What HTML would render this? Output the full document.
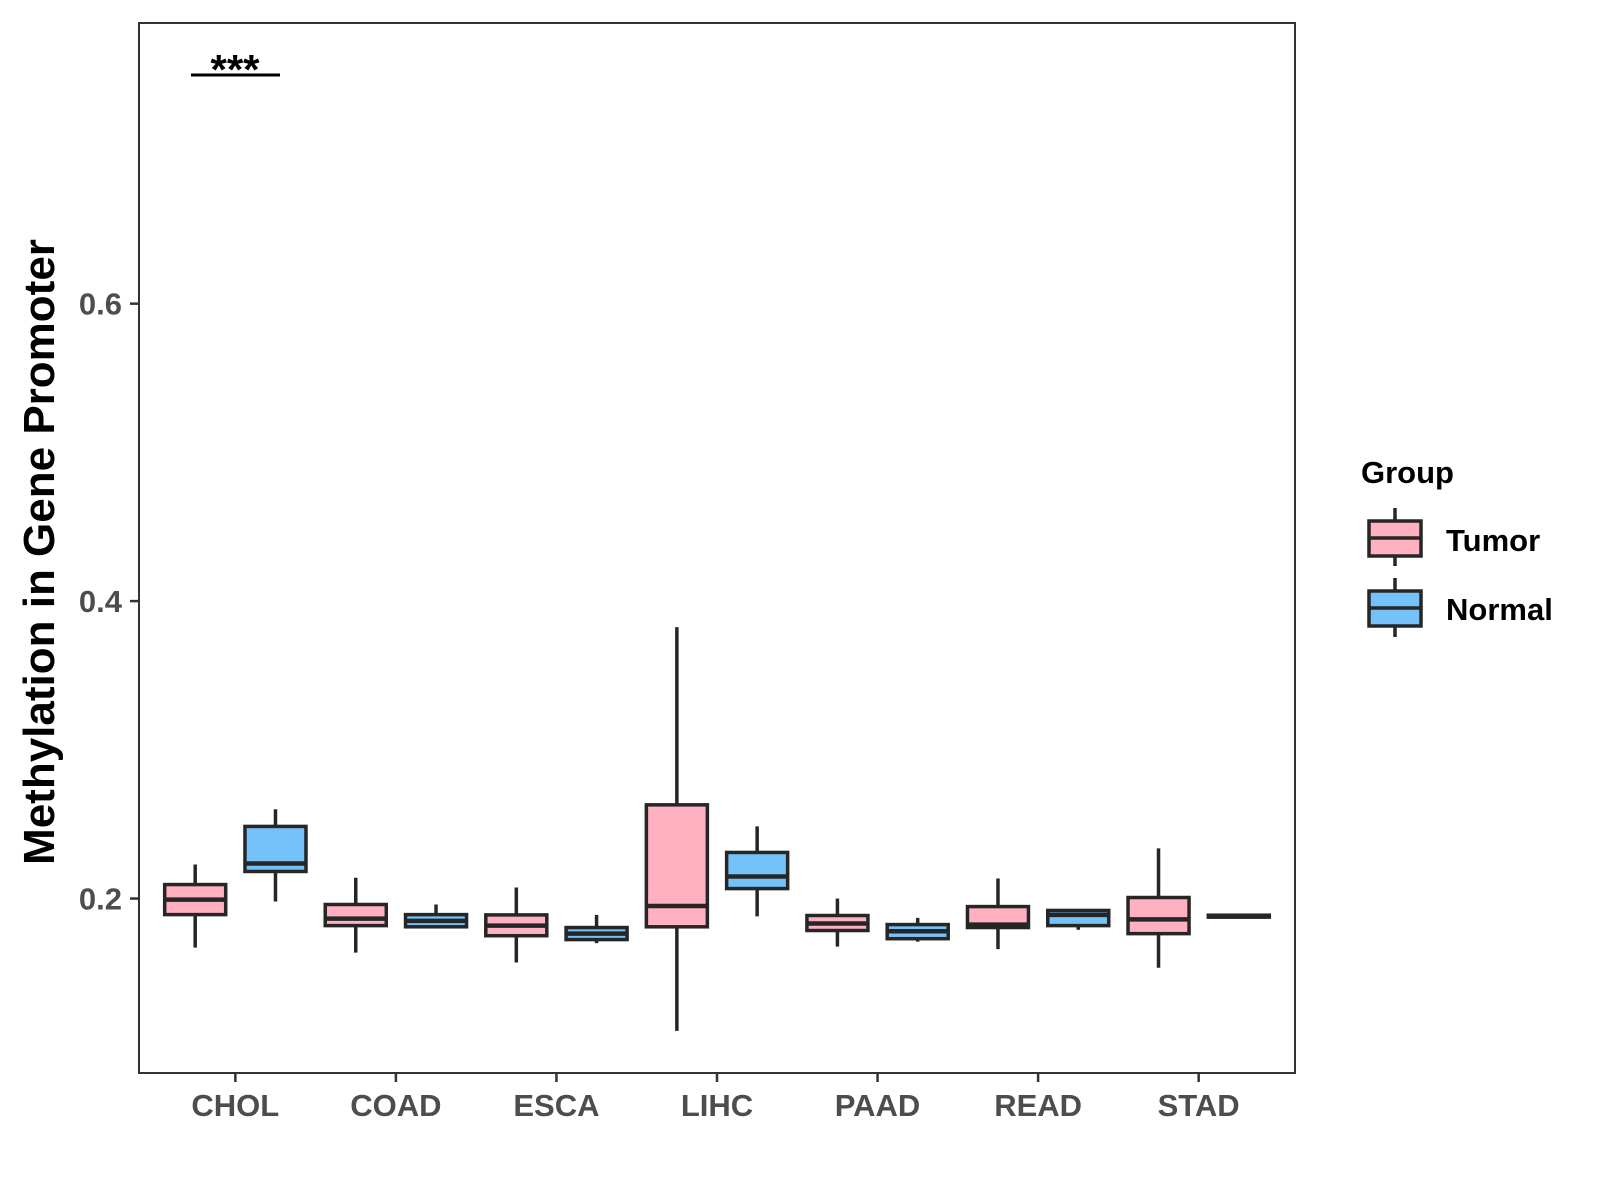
<!DOCTYPE html>
<html><head><meta charset="utf-8"><style>
html,body{margin:0;padding:0;background:#fff;}
svg{display:block;font-family:"Liberation Sans",Arial,sans-serif;}
</style></head><body>
<svg id="chart" width="1600" height="1200" viewBox="0 0 1600 1200" xmlns="http://www.w3.org/2000/svg">
<rect x="0" y="0" width="1600" height="1200" fill="#fff"/>
<rect x="139" y="23" width="1156" height="1050" fill="#fff" stroke="#333" stroke-width="2"/>
<g id="marks"></g>
<g id="axes"></g>
<text transform="translate(54,552) rotate(-90)" text-anchor="middle" font-size="44" font-weight="bold" fill="#000">Methylation in Gene Promoter</text>
<g>
<line x1="191" y1="75" x2="280" y2="75" stroke="#000" stroke-width="3"/>
<text x="235" y="84" text-anchor="middle" font-size="42" font-weight="bold" fill="#000">***</text>
</g>
<g transform="translate(-7,0)">
<text x="1368" y="483" font-size="31" font-weight="bold" fill="#000">Group</text>
<g>
<line x1="1402" y1="508" x2="1402" y2="566" stroke="#262626" stroke-width="3.5"/>
<rect x="1376" y="521" width="52" height="35" fill="#FFB0C1" stroke="#262626" stroke-width="3.5"/>
<line x1="1376" y1="538" x2="1428" y2="538" stroke="#262626" stroke-width="3.5"/>
<text x="1453" y="551" font-size="31" font-weight="bold" fill="#000">Tumor</text>
</g>
<g>
<line x1="1402" y1="578" x2="1402" y2="637" stroke="#262626" stroke-width="3.5"/>
<rect x="1376" y="591" width="52" height="35" fill="#74C2F9" stroke="#262626" stroke-width="3.5"/>
<line x1="1376" y1="608" x2="1428" y2="608" stroke="#262626" stroke-width="3.5"/>
<text x="1453" y="620" font-size="31" font-weight="bold" fill="#000">Normal</text>
</g>
</g>
</svg>
<script>
const categories = ["CHOL","COAD","ESCA","LIHC","PAAD","READ","STAD"];
const tumorMin = [0.167,0.1636,0.157,0.111,0.1677,0.166,0.1535];
const tumorQ1 = [0.1892,0.1818,0.175,0.181,0.1785,0.1805,0.1764];
const tumorMed = [0.1993,0.1865,0.1818,0.195,0.1832,0.1825,0.186];
const tumorQ3 = [0.2094,0.196,0.189,0.263,0.1886,0.1946,0.2007];
const tumorMax = [0.2229,0.214,0.2074,0.3825,0.2,0.2135,0.2337];
const normalMin = [0.198,0.1805,0.170,0.188,0.171,0.179,0.1875];
const normalQ1 = [0.2182,0.181,0.1724,0.2067,0.173,0.1818,0.1875];
const normalMed = [0.2236,0.185,0.1764,0.2148,0.178,0.189,0.188];
const normalQ3 = [0.2485,0.1892,0.1805,0.231,0.1825,0.192,0.1888];
const normalMax = [0.260,0.196,0.189,0.2485,0.187,0.193,0.1888];
const yTicks = [0.2,0.4,0.6];
const yTickLabels = ["0.2","0.4","0.6"];

const NS="http://www.w3.org/2000/svg";
const pLeft=139,pRight=1295,pTop=23,pBottom=1073;
const yMin=0.0827,yMax=0.7887;
function yScale(v){return pBottom-(v-yMin)/(yMax-yMin)*(pBottom-pTop);}
const step=(pRight-pLeft)/(categories.length+0.2);
function xScale(i){return pLeft+step*(0.6+i);}
const boxW=step*0.38, dodge=step*0.25;
function mk(tag,attrs,parent){const e=document.createElementNS(NS,tag);for(const k in attrs)e.setAttribute(k,attrs[k]);parent.appendChild(e);return e;}
const marks=document.getElementById('marks');
const axes=document.getElementById('axes');
function drawBox(cx,mn,q1,md,q3,mx,fill,name){
  const g=mk('g',{},marks);
  
  
  mk('line',{x1:cx,x2:cx,y1:yScale(mx),y2:yScale(mn),stroke:'#262626','stroke-width':3.5},g);
  const h=Math.max(yScale(q1)-yScale(q3),1);
  mk('rect',{x:cx-boxW/2,y:yScale(q3),width:boxW,height:h,fill:fill,stroke:'#262626','stroke-width':3.5},g);
  mk('line',{x1:cx-boxW/2,x2:cx+boxW/2,y1:yScale(md),y2:yScale(md),stroke:'#262626','stroke-width':4.5},g);
}
categories.forEach((c,i)=>{
  drawBox(xScale(i)-dodge,tumorMin[i],tumorQ1[i],tumorMed[i],tumorQ3[i],tumorMax[i],'#FFB0C1','box-tumor-'+c.toLowerCase());
  drawBox(xScale(i)+dodge,normalMin[i],normalQ1[i],normalMed[i],normalQ3[i],normalMax[i],'#74C2F9','box-normal-'+c.toLowerCase());
  mk('line',{x1:xScale(i),x2:xScale(i),y1:pBottom,y2:pBottom+9,stroke:'#333','stroke-width':2.5},axes);
  const t=mk('text',{x:xScale(i),y:pBottom+43,'text-anchor':'middle','font-size':31,'font-weight':'bold',fill:'#4D4D4D'},axes);
  
  
  t.textContent=c;
});
yTicks.forEach((v,i)=>{
  mk('line',{x1:pLeft-9,x2:pLeft,y1:yScale(v),y2:yScale(v),stroke:'#333','stroke-width':2.5},axes);
  const t=mk('text',{x:pLeft-17,y:yScale(v)+11,'text-anchor':'end','font-size':31,'font-weight':'bold',fill:'#4D4D4D'},axes);
  
  
  t.textContent=yTickLabels[i];
});
</script>
</body></html>
